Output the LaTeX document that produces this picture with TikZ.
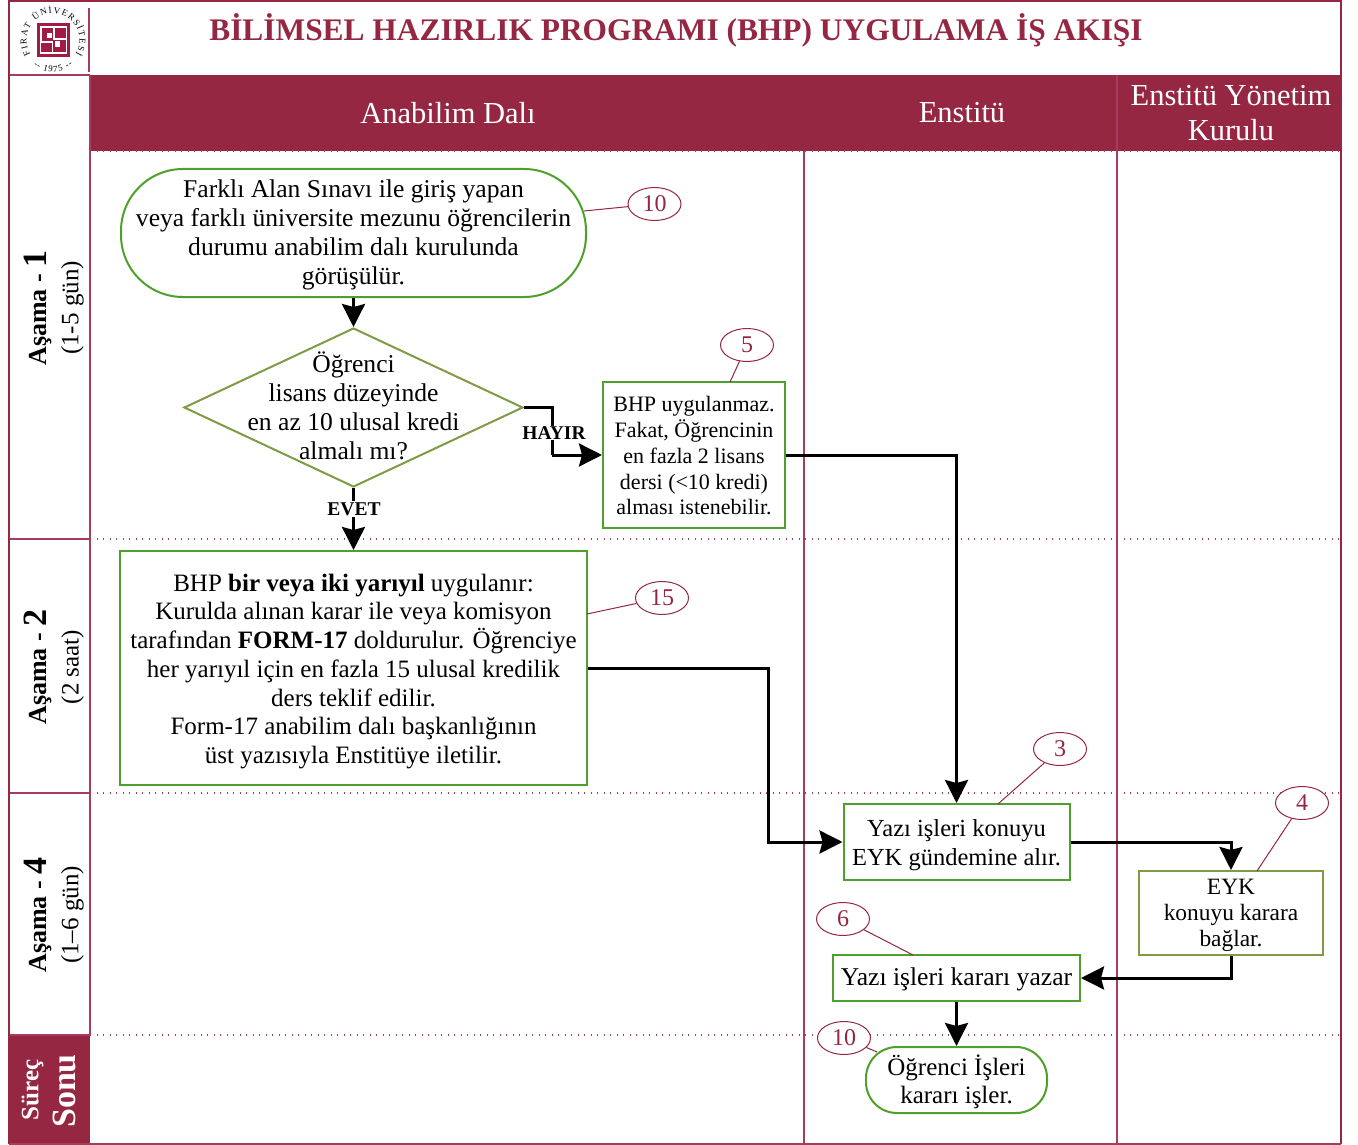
\documentclass[tikz,border=0pt]{standalone}
\usepackage{fontspec}
\setmainfont{Liberation Serif}
\usetikzlibrary{arrows.meta,shapes.geometric,decorations.text}
\definecolor{maroon}{HTML}{952743}
\definecolor{lmaroon}{HTML}{A83C5C}
\definecolor{seal}{HTML}{A01C44}
\definecolor{gbox}{HTML}{4EA02B}
\definecolor{obox}{HTML}{7F9C45}
\newcommand{\logofont}{\fontsize{9}{9}\selectfont}
\newcommand{\dn}[1]{\rule{0pt}{#1}}
\tikzset{
  flowbox/.style={draw=gbox,line width=2pt,fill=white,align=center,inner sep=0pt},
  olivebox/.style={draw=obox,line width=2pt,fill=white,align=center,inner sep=0pt},
  term/.style={flowbox,rounded corners=#1},
  conn/.style={draw=black,line width=3pt,-{Stealth[length=23pt,width=23pt,inset=3pt]}},
  plainconn/.style={draw=black,line width=3pt},
  callout/.style={draw=maroon,fill=white,ellipse,line width=1pt,minimum width=53pt,minimum height=33pt,inner sep=0pt,text=maroon,font=\fontsize{24}{24}\selectfont},
  leader/.style={draw=maroon,line width=1pt},
  gridline/.style={draw=lmaroon,line width=1.6pt},
  rowdot/.style={draw=lmaroon,line width=1.2pt,dash pattern=on 1.2pt off 5.3pt},
  header/.style={text=white,align=center,font=\fontsize{30.5}{34.5}\selectfont},
  rowhead/.style={rotate=90,align=center},
  tag/.style={fill=white,inner sep=1pt,font=\fontsize{19.5}{20}\selectfont\bfseries},
  body/.style={font=\fontsize{25.6}{29}\selectfont},
  small/.style={font=\fontsize{22}{25.7}\selectfont}
}
\begin{document}
\begin{tikzpicture}[x=1pt,y=-1pt]
\useasboundingbox (0,0) rectangle (1358,1145);
\fill[white] (0,0) rectangle (1358,1145);
% header fills
\fill[maroon] (90,75) rectangle (1341,151);
\fill[maroon] (9,1035) rectangle (90,1144);
% row separators
\draw[rowdot] (90,151) -- (1341,151);
\draw[rowdot] (90,539) -- (1341,539);
\draw[rowdot] (90,793) -- (1341,793);
\draw[rowdot] (90,1035) -- (1341,1035);
% lanes
\draw[gridline] (804,151) -- (804,1144);
\draw[gridline] (1117,75) -- (1117,1144);
\draw[gridline] (89,8) -- (89,72);
\draw[gridline] (90,75) -- (90,1035);
\draw[gridline] (9,539) -- (90,539);
\draw[gridline] (9,793) -- (90,793);
\draw[gridline] (9,75) -- (90,75);
\draw[gridline] (9,1035) -- (90,1035);
% frame
\draw[draw=maroon,line width=2.6pt] (9,1144) -- (9,1) -- (1341,1) -- (1341,1144);
\draw[draw=lmaroon,line width=1.5pt] (9,1144) -- (1341,1144);
% logo seal
\fill[seal] (37,23.5) rectangle (69.5,57);
\fill[white] (39.5,26) rectangle (67,54.5);
\fill[seal] (41.5,28) rectangle (53,41);
\fill[seal] (55,28) rectangle (65.5,38);
\fill[seal] (41,43) rectangle (51.5,52.5);
\fill[seal] (53,40) rectangle (65.5,52.5);
\fill[white] (46.5,33) rectangle (52,38.5);
\fill[white] (54.5,41) rectangle (59.5,47);
\begin{scope}[shift={(53,40)},x=1pt,y=1pt]
  \path[decorate,decoration={text along path,text align={fit to path},text={|\logofont|FIRAT ÜNİVERSİTESİ}}]
    (-148:26.5) arc[start angle=212,end angle=-32,radius=26.5];
  \path[decorate,decoration={text along path,text align={fit to path},text={|\logofont|-- 1975 --}}]
    (-128:32) arc[start angle=232,end angle=308,radius=32];
\end{scope}
% title and lane headers
\node[text=maroon,font=\fontsize{31.4}{34}\selectfont\bfseries] (title) at (676,30) {BİLİMSEL HAZIRLIK PROGRAMI (BHP) UYGULAMA İŞ AKIŞI};
\node[header] (h1) at (448,113) {Anabilim Dalı};
\node[header] (h2) at (962,113) {Enstitü};
\node[header] (h3) at (1231,113) {Enstitü Yönetim\\Kurulu};
% row headers
\node[rowhead,font=\fontsize{26}{26}\selectfont\bfseries] (r1) at (38,308) {Aşama - {\fontsize{34}{34}\selectfont 1}};
\node[rowhead,font=\fontsize{25}{25}\selectfont] (r1b) at (72.5,308) {(1-5 gün)};
\node[rowhead,font=\fontsize{26}{26}\selectfont\bfseries] (r2) at (38,667) {Aşama - {\fontsize{34}{34}\selectfont 2}};
\node[rowhead,font=\fontsize{25}{25}\selectfont] (r2b) at (72.5,667) {(2 saat)};
\node[rowhead,font=\fontsize{26}{26}\selectfont\bfseries] (r3) at (38,915) {Aşama - {\fontsize{34}{34}\selectfont 4}};
\node[rowhead,font=\fontsize{25}{25}\selectfont] (r3b) at (72.5,915) {(1–6 gün)};
\node[rowhead,text=white,font=\fontsize{25}{25}\selectfont\bfseries] (r4) at (32.5,1090) {Süreç};
\node[rowhead,text=white,font=\fontsize{34}{34}\selectfont\bfseries] (r4b) at (64,1091) {Sonu};
% flow nodes
\node[term=62pt,body,minimum width=465pt,minimum height=128pt] (start) at (353.5,233)
  {\dn{22pt}Farklı Alan Sınavı ile giriş yapan\\veya farklı üniversite mezunu öğrencilerin\\durumu anabilim dalı kurulunda\\görüşülür.};
\node[diamond,draw=obox,line width=2pt,fill=white,minimum width=339pt,minimum height=159pt,inner sep=0pt,
  label={[body,align=center,yshift=1.5pt]center:Öğrenci\\lisans düzeyinde\\en az 10 ulusal kredi\\almalı mı?}] (dec) at (353.5,407.5) {};
\node[flowbox,small,minimum width=182pt,minimum height=146pt] (nobhp) at (694,455)
  {\dn{17pt}BHP uygulanmaz.\\Fakat, Öğrencinin\\en fazla 2 lisans\\dersi (<10 kredi)\\alması istenebilir.};
\node[flowbox,font=\fontsize{25}{28.7}\selectfont,minimum width=467pt,minimum height=234pt] (form) at (353.5,668)
  {\dn{24pt}BHP \textbf{bir veya iki yarıyıl} uygulanır:\\Kurulda alınan karar ile veya komisyon\\tarafından \textbf{FORM-17} doldurulur. Öğrenciye\\her yarıyıl için en fazla 15 ulusal kredilik\\ders teklif edilir.\\Form-17 anabilim dalı başkanlığının\\üst yazısıyla Enstitüye iletilir.};
\node[flowbox,font=\fontsize{24.5}{29}\selectfont,minimum width=226pt,minimum height=76pt] (gundem) at (956.5,842)
  {\dn{24pt}Yazı işleri konuyu\\EYK gündemine alır.};
\node[olivebox,font=\fontsize{23.4}{26}\selectfont,minimum width=183.5pt,minimum height=84pt] (eyk) at (1231,913)
  {\dn{20.5pt}EYK\\konuyu karara\\bağlar.};
\node[flowbox,body,minimum width=247pt,minimum height=46pt] (yazar) at (956.5,978)
  {\dn{21.5pt}Yazı işleri kararı yazar};
\node[term=31pt,font=\fontsize{25}{28}\selectfont,minimum width=181pt,minimum height=66pt] (bitis) at (956.5,1080)
  {\dn{25pt}Öğrenci İşleri\\kararı işler.};
% connector helpers
\coordinate (h1a) at (552,407.5);
\coordinate (h1b) at (552,455);
\coordinate (fa) at (768,668);
\coordinate (fb) at (768,842);
% connectors
\draw[plainconn] (dec.east) -- (h1a) -- (h1b);
\draw[conn] (h1b) -- (nobhp.west);
\node[tag] (hayir) at (554,433) {HAYIR};
\draw[conn] (dec.south) -- (form.north);
\node[tag] (evet) at (354,509) {EVET};
\draw[conn] (start.south) -- (dec.north);
\draw[conn] (nobhp.east) -| (gundem.north);
\draw[conn] (form.east) -- (fa) -- (fb) -- (gundem.west);
\draw[conn] (gundem.east) -| (eyk.north);
\draw[conn] (eyk.south) |- (yazar.east);
\draw[conn] (yazar.south) -- (bitis.north);
% callouts
\node[callout] (c1) at (654.5,204) {10};
\node[callout] (c2) at (747,345) {5};
\node[callout] (c3) at (662,598) {15};
\node[callout] (c4) at (1060,749) {3};
\node[callout] (c5) at (1302,803) {4};
\node[callout] (c6) at (843,919) {6};
\node[callout] (c7) at (844,1038) {10};
\coordinate (a1) at (584,211);
\coordinate (a2) at (730,382);
\coordinate (a3) at (587,614);
\coordinate (a4) at (998,804);
\coordinate (a5) at (1257,871);
\coordinate (a6) at (913,955);
\coordinate (a7) at (877,1052);
\draw[leader] (c1) -- (a1);
\draw[leader] (c2) -- (a2);
\draw[leader] (c3) -- (a3);
\draw[leader] (c4) -- (a4);
\draw[leader] (c5) -- (a5);
\draw[leader] (c6) -- (a6);
\draw[leader] (c7) -- (a7);
\end{tikzpicture}
\end{document}
